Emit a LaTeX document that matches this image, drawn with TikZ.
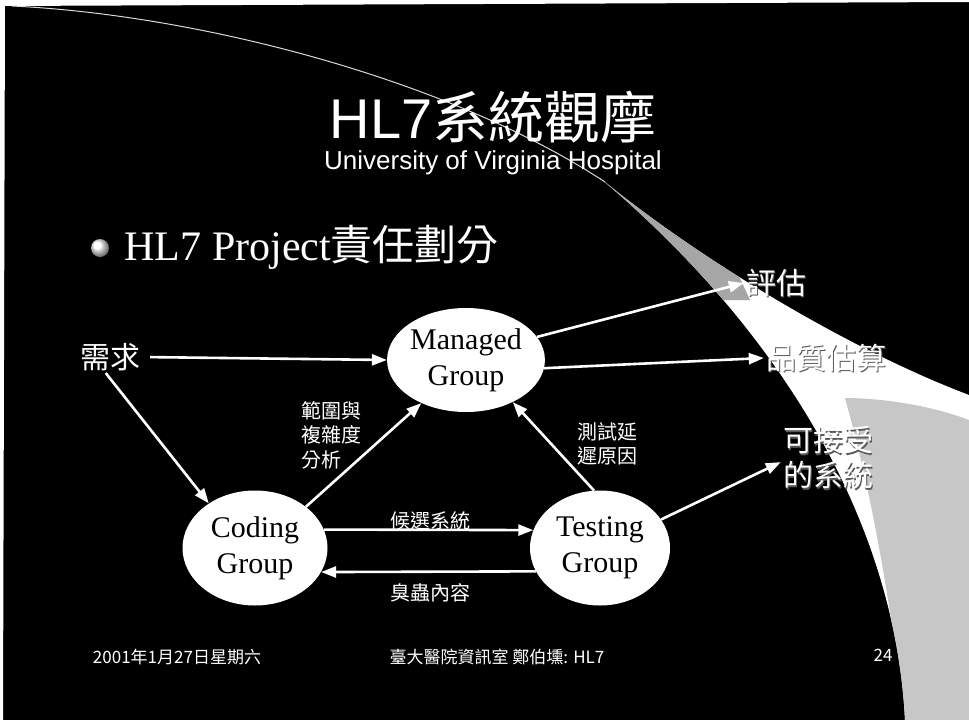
\documentclass[tikz,border=0pt]{standalone}
\usepackage{fontspec}
\setmainfont{Liberation Serif}
\newfontfamily\cjk{Noto Sans CJK TC}
\newfontfamily\arialfont{Liberation Sans}
\usetikzlibrary{arrows.meta,shapes.geometric}
\tikzset{
	grp/.style={ellipse, fill=white, text=black, inner sep=0pt, align=center, font=\fontsize{30}{36}\selectfont},
	link/.style={draw=white, line width=2.6pt, -{Triangle[length=15pt,width=11pt]}},
	lbl/.style={text=white, inner sep=1pt, align=left, font=\cjk\fontsize{20}{24.5}\selectfont},
	goal/.style={text=white, inner sep=2pt, align=left, font=\cjk\fontsize{30}{35}\selectfont},
	shade/.style={goal, text=black!65},
	foot/.style={text=white, font=\cjk\fontsize{17}{19}\selectfont},
}

\begin{document}
\begin{tikzpicture}[x=1pt,y=-1pt]
			%%%%% BACKGROUND %%%%%
			
			\fill[black] (0,0) rectangle (969,720);
			\useasboundingbox (0,0) rectangle (969,720);
			\fill[white] (0,0) -- (969,0) -- (969,2) -- (0,6) -- cycle;
			\fill[white] (0,0) -- (5,0) -- (3,720) -- (0,720) -- cycle;
			
			\draw[white!85!black, line width=1pt] (12,6) .. controls (200,15) and (450,80) .. (605,182);
			\begin{scope}
				\clip (600,178) .. controls (780,330) and (895,520) .. (905,720) -- (969,720) -- (969,395) .. controls (850,350) and (700,260) .. (600,178) -- cycle;
				\fill[white] (590,170) rectangle (969,720);
				\fill[black!35] (590,170) -- (690,170) -- (750,300) -- (590,300) -- cycle;
				\fill[black!22] (845,398) .. controls (865,470) and (885,560) .. (905,720) -- (969,720) -- (969,420) .. controls (930,405) and (880,398) .. (845,398) -- cycle;
			\end{scope}
			
			%%%%% TITLE %%%%%
			
			\node[text=white, font=\fontsize{56}{60}\selectfont] (title) at (493,117) {\arialfont HL7\cjk 系統觀摩};
			\node[text=white, font=\arialfont\fontsize{26}{28}\selectfont] (subtitle) at (493,163) {University of Virginia Hospital};
			
			\shade[ball color=white] (100,248) circle (9);
			\node[text=white, anchor=west, font=\fontsize{42}{46}\selectfont] (topic) at (121,247) {HL7 Project\cjk 責任劃分};
			
			%%%%% GROUPS %%%%%
			
			\node[grp, minimum width=157pt, minimum height=104pt] (managed) at (466,360) {Managed\\Group};
			\node[grp, minimum width=145pt, minimum height=115pt] (coding) at (255,548) {Coding\\Group};
			\node[grp, minimum width=140pt, minimum height=115pt] (testing) at (600,548) {Testing\\Group};
			
			\node[goal] (need) at (110,357) {需求};
			\node[shade] at (777.2,284.2) {評估};
			\node[goal] (eval) at (776,283) {評估};
			\node[shade] at (827.2,359.2) {品質估算};
			\node[goal] (quality) at (826,358) {品質估算};
			\node[shade] at (829.2,459.2) {可接受\\的系統};
			\node[goal] (accept) at (828,458) {可接受\\的系統};
			
			\node[lbl] (scope) at (331,435) {範圍與\\複雜度\\分析};
			\node[lbl] (delay) at (607,444) {測試延\\遲原因};
			\node[lbl] (cand) at (430,521) {候選系統};
			\node[lbl] (bug) at (430,593) {臭蟲內容};
			
			%%%%% LINKS %%%%%
			
			\draw[link, shorten <=8pt] (need.east) -- (managed.west);
			\draw[link] (need.255) -- (coding.136);
			\draw[link] (coding.39) -- (managed.224);
			\draw[link] (testing.96) -- (managed.318);
			\draw[link] (managed.18) -- (eval.west);
			\draw[link] (managed.-6) -- (quality.west);
			\draw[link] (testing.25) -- (accept.185);
			\draw[link] (coding.15) -- (testing.165);
			\draw[link] (testing.200) -- (coding.-20);
			
			%%%%% FOOTER %%%%%
			
			\node[foot] (date) at (177,657) {2001年1月27日星期六};
			\node[foot] (office) at (497,657) {臺大醫院資訊室 鄭伯壎: HL7};
			\node[foot] (page) at (883,655) {24};
			
\end{tikzpicture}
\end{document}
